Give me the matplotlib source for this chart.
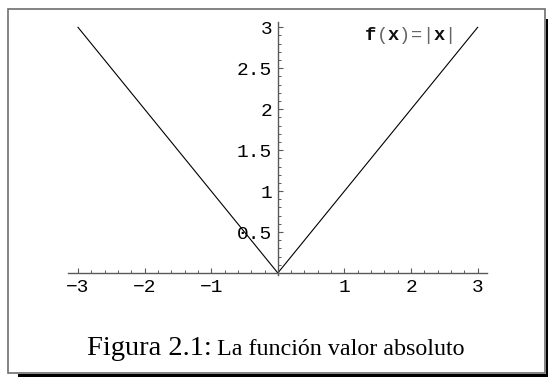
import numpy as np
import matplotlib
matplotlib.use("Agg")
import matplotlib.pyplot as plt
from matplotlib.patches import Rectangle
from matplotlib.ticker import FixedLocator

# Function samples for f(x) = |x|
x_vals = [-3.0, 0.0, 3.0]
y_vals = [3.0, 0.0, 3.0]

x_ticks = [-3, -2, -1, 1, 2, 3]
x_labels = ["\u22123", "\u22122", "\u22121", "1", "2", "3"]
y_ticks = [0.5, 1, 1.5, 2, 2.5, 3]
y_labels = ["0.5", "1", "1.5", "2", "2.5", "3"]
x_minor = [v / 5 for v in range(-15, 16) if v % 5]
y_minor = [v / 10 for v in range(1, 31) if v % 5]

W, H = 548, 377
fig = plt.figure(figsize=(W / 100, H / 100), dpi=100)
fig.patch.set_facecolor("white")

# Axes placement in pixels
xlim = (-3.15, 3.14)
ylim = (-0.3, 3.07)
px_left, px_right = 68, 487
py_top = 273 - 81.9 * ylim[1]
py_bot = 273 - 81.9 * ylim[0]
ax = fig.add_axes([px_left / W, 1 - py_bot / H,
                   (px_right - px_left) / W, (py_bot - py_top) / H])
ax.set_xlim(*xlim)
ax.set_ylim(*ylim)
ax.patch.set_alpha(0)

ax.plot(x_vals, y_vals, color="black", lw=0.8, solid_joinstyle="miter")

axis_col = "#5a5a5a"
for s in ["top", "right"]:
    ax.spines[s].set_visible(False)
ax.spines["left"].set_position(("data", 0))
ax.spines["bottom"].set_position(("data", 0))
ax.spines["left"].set_bounds(-0.03, ylim[1])
for s in ["left", "bottom"]:
    ax.spines[s].set_color(axis_col)
    ax.spines[s].set_linewidth(1.0)

mono = "Liberation Mono"
ax.xaxis.set_major_locator(FixedLocator(x_ticks))
ax.xaxis.set_minor_locator(FixedLocator(x_minor))
ax.yaxis.set_major_locator(FixedLocator(y_ticks))
ax.yaxis.set_minor_locator(FixedLocator(y_minor))
ax.set_xticklabels(x_labels)
ax.set_yticklabels(y_labels)

lab_col = "#000000"
ax.tick_params(axis="x", which="major", direction="in", length=3.5, width=0.8,
               color=axis_col, pad=4, labelsize=14, labelcolor=lab_col)
ax.tick_params(axis="x", which="minor", direction="in", length=2, width=0.7,
               color=axis_col)
ax.tick_params(axis="y", which="major", direction="in", length=3.5, width=0.8,
               color=axis_col, pad=4, labelsize=14, labelcolor=lab_col)
ax.tick_params(axis="y", which="minor", direction="in", length=2, width=0.7,
               color=axis_col)
for lab in ax.get_xticklabels() + ax.get_yticklabels():
    lab.set_fontfamily(mono)

# Plot label f(x)=|x| drawn character by character in monospace
label_parts = [("f", "bold", "#111111"), ("(", "normal", "#666666"),
               ("x", "bold", "#111111"), (")", "normal", "#666666"),
               ("=", "normal", "#666666"), ("|", "normal", "#666666"),
               ("x", "bold", "#111111"), ("|", "normal", "#666666")]
x0_px, y_px = 371, 35
step = 11.3
for i, (ch, wt, col) in enumerate(label_parts):
    fig.text((x0_px + i * step) / W, 1 - y_px / H, ch, family=mono,
             weight=wt, color=col, fontsize=13.5, ha="center", va="center")

# Caption: larger figure number followed by the description
serif = "Liberation Serif"
cap_y = 1 - 355 / H
t1 = fig.text(87 / W, cap_y, "Figura 2.1:", family=serif,
              fontsize=20.5, color="black", ha="left", va="baseline")
renderer = fig.canvas.get_renderer()
bb = t1.get_window_extent(renderer=renderer)
fig.text((bb.x1 + 5) / W, cap_y, "La funci\u00f3n valor absoluto",
         family=serif, fontsize=17.3, color="black",
         ha="left", va="baseline")

# Page frame with drop shadow
def px_rect(x0, y0, x1, y1, **kw):
    return Rectangle((x0 / W, 1 - y1 / H), (x1 - x0) / W, (y1 - y0) / H,
                     transform=fig.transFigure, **kw)

fig.add_artist(px_rect(546, 19, 548.5, 377.5, facecolor="black", edgecolor="none"))
fig.add_artist(px_rect(18, 374, 548.5, 377.5, facecolor="black", edgecolor="none"))
fig.add_artist(px_rect(7.5, 9, 545, 373, facecolor="none", edgecolor="#6e6e6e",
                       linewidth=1.2))

fig.savefig("out.png", dpi=100, facecolor="white")
